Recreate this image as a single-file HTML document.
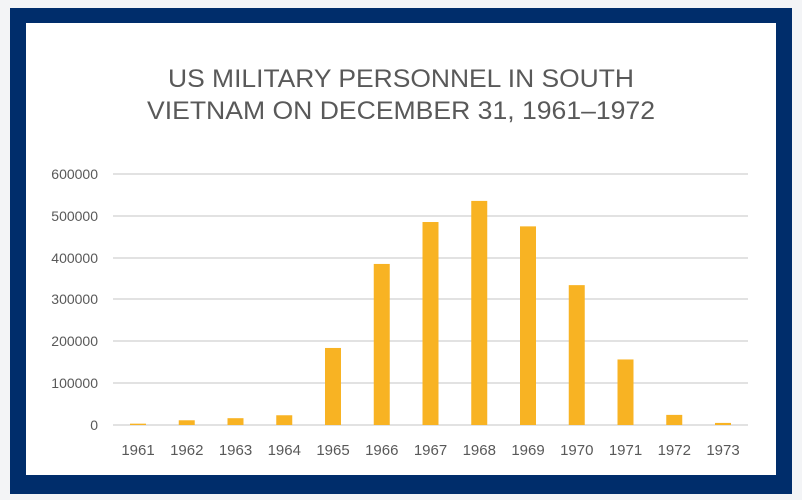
<!DOCTYPE html>
<html><head><style>
body{margin:0;width:802px;height:500px;background:#f3f4f6;position:relative;overflow:hidden;font-family:"Liberation Sans",sans-serif}
</style></head><body>
<svg width="802" height="500" style="position:absolute;left:0;top:0">
<rect x="10" y="8" width="782" height="486" fill="#002d6b"/>
<rect x="26" y="23" width="750" height="452" fill="#ffffff"/>
<g font-family="Liberation Sans, sans-serif" fill="#595959">
<text x="401" y="87" font-size="25" text-anchor="middle" textLength="466" lengthAdjust="spacingAndGlyphs">US MILITARY PERSONNEL IN SOUTH</text>
<text x="401" y="119" font-size="25" text-anchor="middle" textLength="508" lengthAdjust="spacingAndGlyphs">VIETNAM  ON DECEMBER 31, 1961–1972</text>
</g>
<g stroke="#d9d9d9" stroke-width="1.5">
<line x1="113" x2="748" y1="174" y2="174"/>
<line x1="113" x2="748" y1="216" y2="216"/>
<line x1="113" x2="748" y1="258" y2="258"/>
<line x1="113" x2="748" y1="299" y2="299"/>
<line x1="113" x2="748" y1="341" y2="341"/>
<line x1="113" x2="748" y1="383" y2="383"/>
<line x1="113" x2="748" y1="425" y2="425"/>
</g>
<g font-size="14" fill="#595959" text-anchor="end">
<text x="98" y="179">600000</text>
<text x="98" y="221">500000</text>
<text x="98" y="263">400000</text>
<text x="98" y="304">300000</text>
<text x="98" y="346">200000</text>
<text x="98" y="388">100000</text>
<text x="98" y="430">0</text>
</g>
<g fill="#f8b323" id="bars"></g>
<g font-size="15" fill="#595959" text-anchor="middle" id="xl"></g>
</svg>
<script>
var v=[3200,11300,16300,23300,184300,385300,485600,536100,475200,334600,156800,24200,5000];
var b=document.getElementById('bars'),x=document.getElementById('xl'),ns='http://www.w3.org/2000/svg';
v.forEach(function(d,i){var cx=138+i*48.75,h=d*0.000418;
var r=document.createElementNS(ns,'rect');r.setAttribute('x',cx-8);r.setAttribute('width',16);r.setAttribute('y',425-h);r.setAttribute('height',h);b.appendChild(r);
var t=document.createElementNS(ns,'text');t.setAttribute('x',cx);t.setAttribute('y',455);t.textContent=1961+i;x.appendChild(t);});
</script>
</body></html>
